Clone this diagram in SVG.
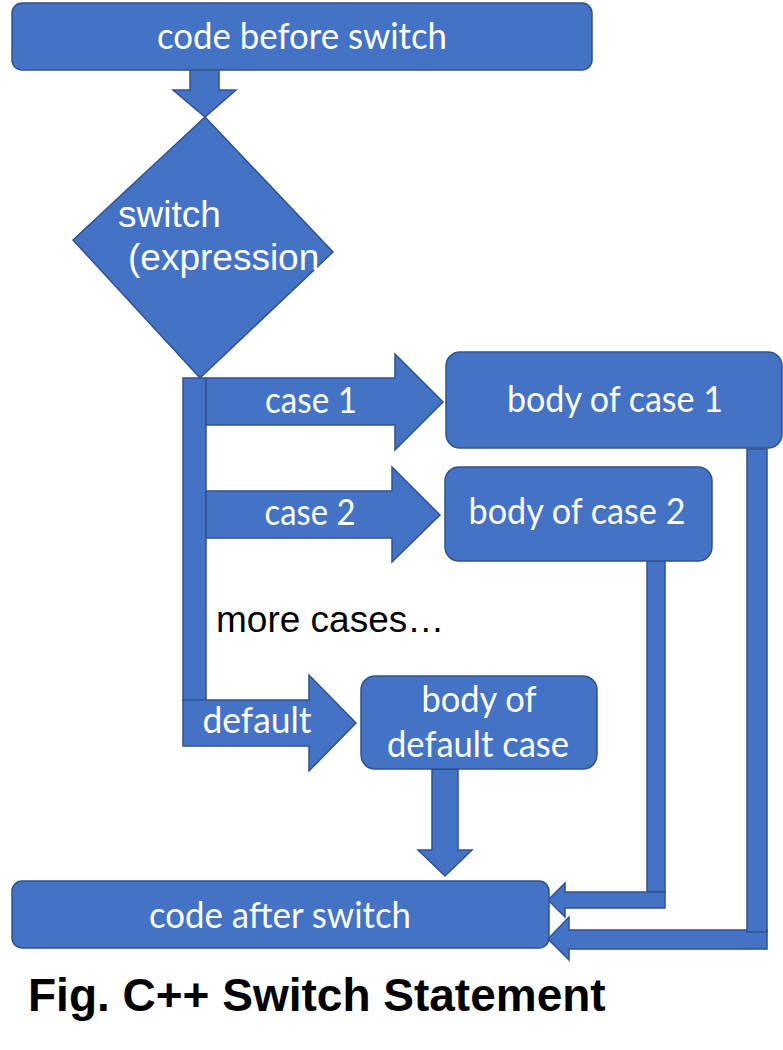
<svg xmlns="http://www.w3.org/2000/svg" width="783" height="1050" viewBox="0 0 783 1050">
  <style>
    .shape { fill: #4472C4; stroke: #2F528F; stroke-width: 1.5; stroke-linejoin: miter; }
    .lbl { font-family: Lato, "Liberation Sans", sans-serif; font-size: 36px; fill: #FFFFFF; text-anchor: middle; }
    .ar { font-family: "Liberation Sans", Arial, sans-serif; font-size: 37px; }
    .title { font-family: "Liberation Sans", Arial, sans-serif; font-size: 46px; font-weight: bold; fill: #000000; }
  </style>
  <rect width="783" height="1050" fill="#FFFFFF"/>

  <g id="connectors">
    <!-- code before -> switch -->
    <polygon class="shape" points="190,66 219,66 219,90 236,90 205,117 173,90 190,90"/>
    <!-- vertical trunk from switch -->
    <rect class="shape" x="183" y="378" width="23" height="323"/>
    <!-- case 1 arrow -->
    <polygon class="shape" points="206,378 395,378 395,354 443,402 395,450 395,425 206,425"/>
    <!-- case 2 arrow -->
    <polygon class="shape" points="206,491 392,491 392,467 440,515 392,562 392,538 206,538"/>
    <!-- default arrow -->
    <polygon class="shape" points="183,700 309,700 309,675 356,723 309,771 309,746 183,746"/>
    <!-- default body -> code after -->
    <polygon class="shape" points="432,769 458,769 458,850 472,850 445,876 418,850 432,850"/>
    <!-- body case 2 -> code after -->
    <rect class="shape" x="647" y="555" width="18" height="337"/>
    <polygon class="shape" points="665,892 665,908 565,908 565,917 548,900 565,883 565,892"/>
    <!-- body case 1 -> code after -->
    <polygon class="shape" points="767,930 767,949 569,949 569,960 548,939 569,917 569,930"/>
    <rect class="shape" x="747" y="449" width="20" height="483"/>
  </g>

  <g id="code-before">
    <rect class="shape" x="12" y="3" width="580" height="67" rx="10"/>
    <text class="lbl" x="302" y="49" textLength="290" lengthAdjust="spacingAndGlyphs">code before switch</text>
  </g>

  <g id="switch">
    <polygon class="shape" points="205,117 333,252 200,378 73,240"/>
    <text class="ar" x="118" y="227" fill="#FFFFFF">switch</text>
    <text class="ar" x="128" y="270" fill="#FFFFFF">(expression</text>
  </g>

  <g id="case-labels">
    <text class="lbl" x="311" y="413" textLength="92" lengthAdjust="spacingAndGlyphs">case 1</text>
    <text class="lbl" x="310" y="525" textLength="91" lengthAdjust="spacingAndGlyphs">case 2</text>
    <text class="lbl" x="257" y="733" textLength="109" lengthAdjust="spacingAndGlyphs">default</text>
  </g>

  <g id="body-case-1">
    <rect class="shape" x="446" y="352" width="336" height="96" rx="14"/>
    <text class="lbl" x="615" y="412" textLength="216" lengthAdjust="spacingAndGlyphs">body of case 1</text>
  </g>

  <g id="body-case-2">
    <rect class="shape" x="445" y="467" width="267" height="94" rx="14"/>
    <text class="lbl" x="577" y="524" textLength="217" lengthAdjust="spacingAndGlyphs">body of case 2</text>
  </g>

  <g id="more-cases">
    <text class="ar" x="216" y="632" fill="#000000">more cases…</text>
  </g>

  <g id="body-default">
    <rect class="shape" x="361" y="676" width="236" height="93" rx="14"/>
    <text class="lbl" x="479" y="712" textLength="115" lengthAdjust="spacingAndGlyphs">body of</text>
    <text class="lbl" x="478" y="757" textLength="182" lengthAdjust="spacingAndGlyphs">default case</text>
  </g>

  <g id="code-after">
    <rect class="shape" x="12" y="881" width="537" height="67" rx="10"/>
    <text class="lbl" x="280" y="928" textLength="262" lengthAdjust="spacingAndGlyphs">code after switch</text>
  </g>

  <g id="caption">
    <text class="title" x="28" y="1011">Fig. C++ Switch Statement</text>
  </g>
</svg>
